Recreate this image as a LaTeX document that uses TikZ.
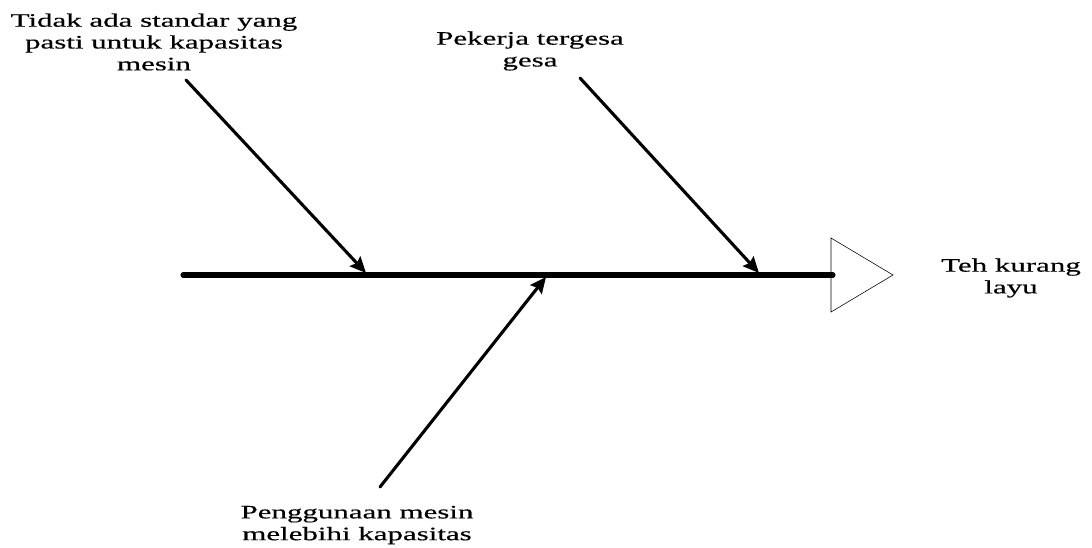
\documentclass[tikz,border=0pt]{standalone}
\usepackage{fontspec}
\setmainfont{Liberation Serif}
\newfontfamily\wideserif[FakeStretch=1.63, FakeBold=0.4]{Liberation Serif}
\usetikzlibrary{arrows.meta}

\begin{document}
\begin{tikzpicture}[
  x=0.025cm, y=-0.025cm,
  spine/.style={line width=3.6pt, draw=black, line cap=round},
  bone/.style={line width=2.2pt, draw=black, line cap=round, -{Stealth[length=4mm, width=3.6mm, inset=0.6mm]}},
  headtri/.style={draw=black, thin, line join=miter},
  cause/.style={align=center, inner sep=0pt, font=\wideserif\fontsize{13.5}{15.5}\selectfont}
]
  \useasboundingbox (0,0) rectangle (1092,547);

  % Tulang utama
  \coordinate (tail) at (183,275);
  \coordinate (mouth) at (833,275);
  \coordinate (j1) at (366,273);
  \coordinate (j2) at (759,273);
  \coordinate (j3) at (546,277);
  \draw[spine] (tail) -- (mouth);

  % Kepala ikan
  \coordinate (h1) at (831,238);
  \coordinate (h2) at (893,275);
  \coordinate (h3) at (831,312);
  \draw[headtri] (h1) -- (h2) -- (h3) -- cycle;

  % Label penyebab
  \node[cause] (c1) at (154,42) {Tidak ada standar yang\\pasti untuk kapasitas\\mesin};
  \node[cause] (c2) at (530,51) {Pekerja tergesa\\gesa};
  \node[cause] (c3) at (357,525) {Penggunaan mesin\\melebihi kapasitas};
  \node[cause] (eff) at (1011,278) {Teh kurang\\layu};

  % Ujung bebas panah
  \coordinate (s1) at (186,80);
  \coordinate (s2) at (580,78);
  \coordinate (s3) at (380,487);

  % Panah
  \draw[bone] (s1) -- (j1);
  \draw[bone] (s2) -- (j2);
  \draw[bone] (s3) -- (j3);
\end{tikzpicture}
\end{document}
